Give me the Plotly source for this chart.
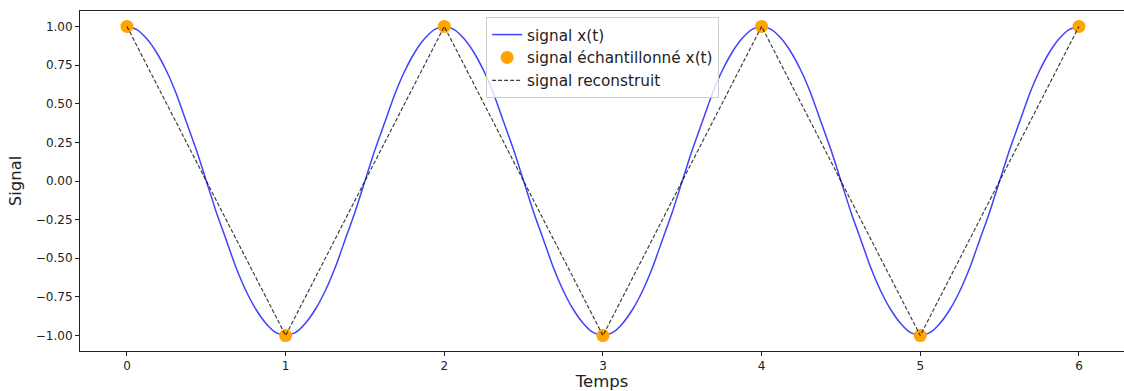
import plotly.graph_objects as go

# continuous signal read at steps of 1/16
t_cont = [k / 16 for k in range(0, 97)]
half_period = [1.0, 0.98, 0.92, 0.83, 0.71, 0.56, 0.38, 0.20,
               0.0, -0.20, -0.38, -0.56, -0.71, -0.83, -0.92, -0.98]
period_vals = half_period + [-v for v in half_period]
x_cont = (period_vals * 3) + [1.0]

t_samp = [0, 1, 2, 3, 4, 5, 6]
x_samp = [1, -1, 1, -1, 1, -1, 1]

font = "DejaVu Sans, Verdana, sans-serif"

fig = go.Figure()
fig.add_trace(go.Scatter(x=t_cont, y=x_cont, mode="lines", name="signal x(t)",
                         line=dict(color="rgba(0,0,255,0.75)", width=1.5, shape="spline", smoothing=0.6)))
fig.add_trace(go.Scatter(x=t_samp, y=x_samp, mode="markers", name="signal échantillonné x(t)",
                         marker=dict(color="#FFA500", size=13, line=dict(width=0))))
fig.add_trace(go.Scatter(x=t_samp, y=x_samp, mode="lines", name="signal reconstruit",
                         line=dict(color="rgba(0,0,0,0.75)", width=1.2, dash="4px,2px")))

fig.update_layout(
    width=1124, height=391,
    margin=dict(l=80, r=0, t=11, b=40),
    plot_bgcolor="white", paper_bgcolor="white",
    font=dict(family=font, size=12, color="#222"),
    showlegend=True,
    legend=dict(x=0.389, y=0.982, xanchor="left", yanchor="top",
                bgcolor="rgba(255,255,255,0.8)", bordercolor="#cccccc", borderwidth=1,
                font=dict(size=15.3, color="#222"), tracegroupgap=0, itemwidth=30),
    xaxis=dict(range=[-0.296, 6.284], tickvals=t_samp, ticktext=[str(v) for v in t_samp],
               showgrid=False, zeroline=False, showline=True, linecolor="#222", linewidth=1,
               mirror=True, ticks="outside", ticklen=4, tickcolor="#222", automargin=False,
               title=dict(text="Temps", font=dict(size=16.5), standoff=10)),
    yaxis=dict(range=[-1.1, 1.1], tickvals=[-1, -0.75, -0.5, -0.25, 0, 0.25, 0.5, 0.75, 1],
               tickformat=".2f", showgrid=False, zeroline=False, showline=True, automargin=False,
               linecolor="#222", linewidth=1, ticks="outside", ticklen=4, tickcolor="#222",
               title=dict(text="Signal", font=dict(size=16.5), standoff=10)),
)

fig.write_html("out.html")
